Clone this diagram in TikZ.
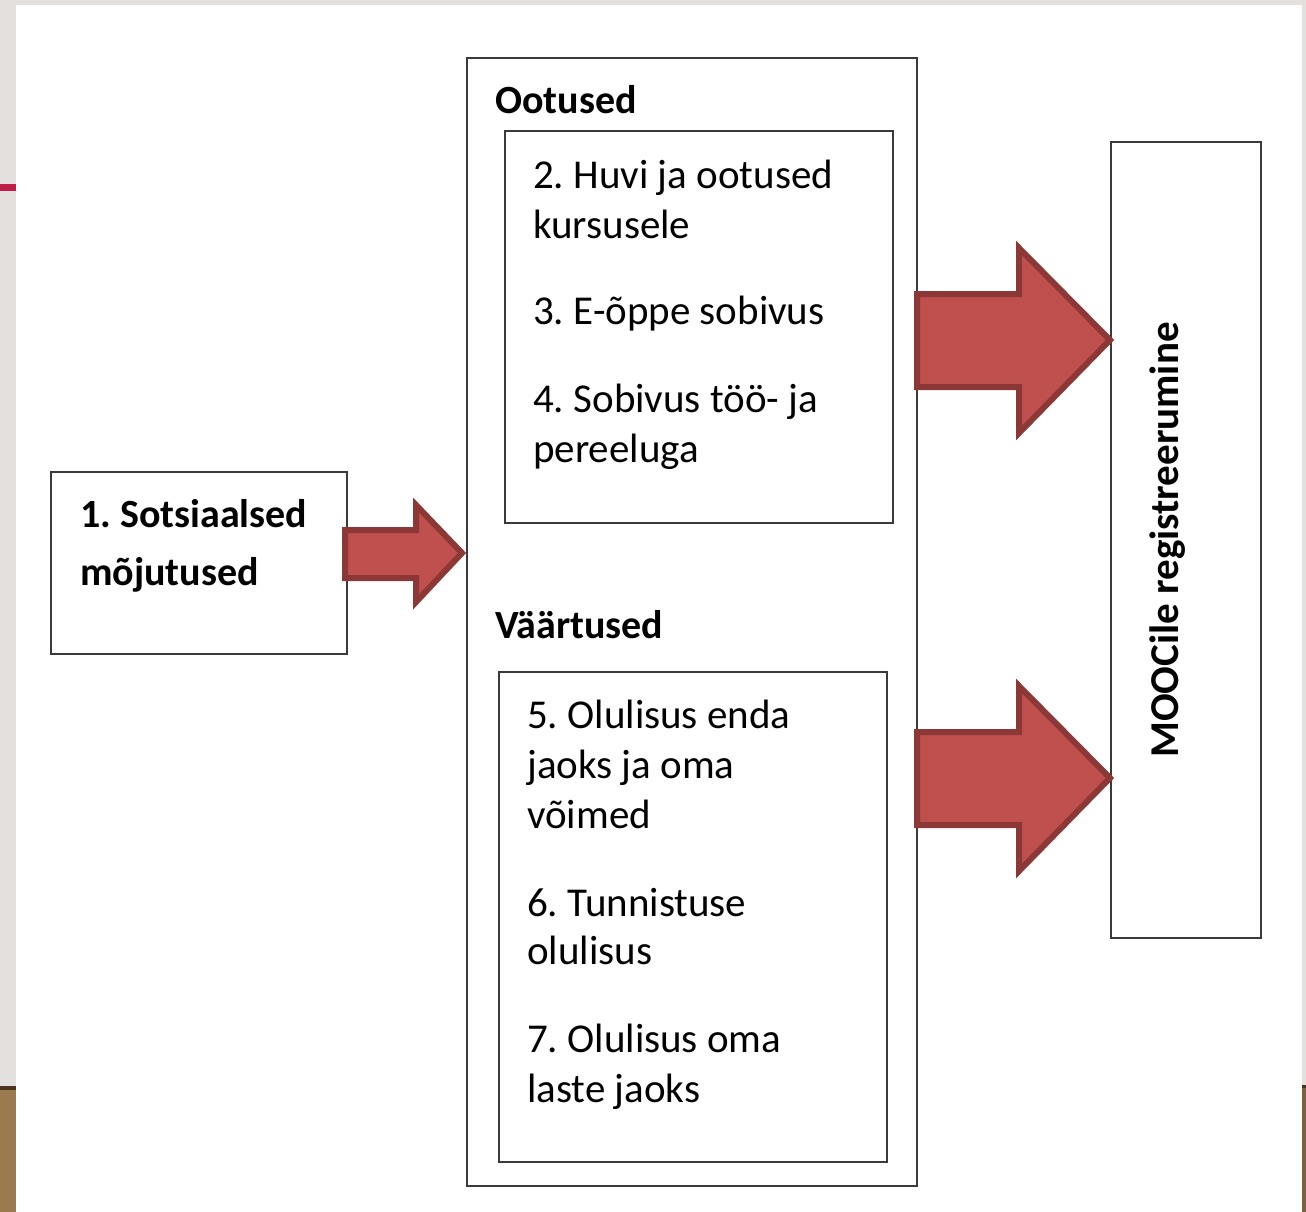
\documentclass[tikz,border=0pt]{standalone}
\usepackage{fontspec}
\setmainfont{Carlito}
\frenchspacing
\definecolor{bggray}{HTML}{E4E0DD}
\definecolor{accent}{HTML}{BE1E4A}
\definecolor{wood}{HTML}{9C7A50}
\definecolor{wooddark}{HTML}{4A3420}
\definecolor{arrowfill}{HTML}{C0504D}
\definecolor{arrowline}{HTML}{8C3836}
\definecolor{boxline}{HTML}{3A3A3A}
\tikzset{
  frame/.style={draw=boxline, line width=2pt},
  txt/.style={anchor=base west, inner sep=0pt, font=\fontsize{41}{50}\selectfont\frenchspacing},
  btxt/.style={anchor=base west, inner sep=0pt, font=\fontsize{40}{50}\selectfont\bfseries\frenchspacing},
  blockarrow/.style={fill=arrowfill, draw=arrowline, line width=6pt, line join=miter},
}
\begin{document}
\begin{tikzpicture}[x=1pt,y=-1pt]
\useasboundingbox (0,0) rectangle (1306,1212);
% page background
\fill[bggray] (0,0) rectangle (1306,1212);
\fill[white] (16,5) rectangle (1302,1212);
\fill[accent] (0,184) rectangle (16,191);
\fill[wood] (0,1086) rectangle (16,1212);
\fill[wooddark] (0,1086) rectangle (16,1090);
\fill[wood!80!black] (1302,1085) rectangle (1306,1212);
\fill[wooddark] (1302,1085) rectangle (1306,1088);

% boxes
\draw[frame] (51,472) rectangle (347,654);
\draw[frame] (467,58) rectangle (917,1186);
\draw[frame] (505,131) rectangle (893,523);
\draw[frame] (499,672) rectangle (887,1162);
\draw[frame] (1111,142) rectangle (1261,938);

% block arrows
\draw[blockarrow] (345,530) -- (416,530) -- (416,505) -- (462,553) -- (416,602) -- (416,578) -- (345,578) -- cycle;
\draw[blockarrow] (917,294) -- (1019,294) -- (1019,248) -- (1110,340) -- (1019,433) -- (1019,387) -- (917,387) -- cycle;
\draw[blockarrow] (917,732) -- (1019,732) -- (1019,686) -- (1110,778) -- (1019,871) -- (1019,825) -- (917,825) -- cycle;

% left box text
\node[btxt] (s1a) at (80,527) {1. Sotsiaalsed};
\node[btxt] (s1b) at (80,585) {mõjutused};

% headings
\node[btxt] (hoot) at (495,114) {Ootused};
\node[btxt] (hvaa) at (495,638) {Väärtused};

% top inner box
\node[txt] (i2a) at (533,188) {2. Huvi ja ootused};
\node[txt] (i2b) at (533,238) {kursusele};
\node[txt] (i3) at (533,324) {3. E-õppe sobivus};
\node[txt] (i4a) at (533,412) {4. Sobivus töö- ja};
\node[txt] (i4b) at (533,462) {pereeluga};

% bottom inner box
\node[txt] (i5a) at (527,728) {5. Olulisus enda};
\node[txt] (i5b) at (527,778) {jaoks ja oma};
\node[txt] (i5c) at (527,828) {võimed};
\node[txt] (i6a) at (527,916) {6. Tunnistuse};
\node[txt] (i6b) at (527,964) {olulisus};
\node[txt] (i7a) at (527,1052) {7. Olulisus oma};
\node[txt] (i7b) at (527,1102) {laste jaoks};

% right box text
\node[anchor=base, inner sep=0pt, rotate=90, font=\fontsize{41}{50}\selectfont\bfseries] (moo) at (1178,540) {MOOCile registreerumine};
\end{tikzpicture}
\end{document}
